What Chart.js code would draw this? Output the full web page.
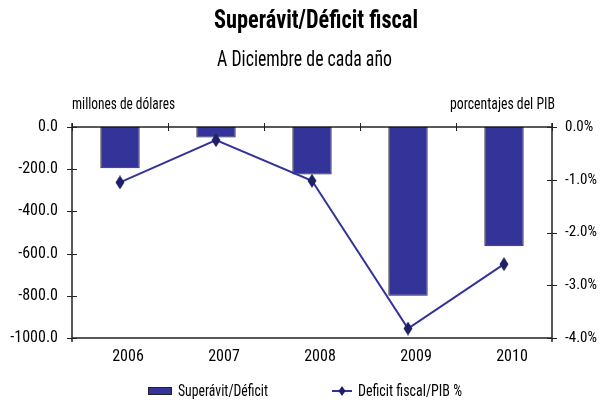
<!DOCTYPE html>
<html>
<head>
<meta charset="utf-8">
<script src="https://cdn.jsdelivr.net/npm/chart.js@4/dist/chart.umd.min.js"></script>
<style>
  html, body { margin: 0; padding: 0; background: #fff; }
  #wrap { width: 614px; height: 406px; position: relative; }
</style>
</head>
<body>
<div id="wrap"><canvas id="c" width="614" height="406"></canvas></div>
<script>
// Years shown on the category axis
const years = ['2006', '2007', '2008', '2009', '2010'];
// Fiscal balance, millions of dollars
const balance = [-195, -50, -225, -800, -565];
// Fiscal deficit as share of GDP, percent
const deficitPct = [-1.05, -0.25, -1.02, -3.82, -2.6];
// Axis bounds and steps
const leftTicks = { min: -1000, max: 0, step: 200 };
const rightTicks = { min: -4, max: 0, step: 1 };

const FONT = "'Roboto Condensed', 'Liberation Sans', Arial, sans-serif";
const NAVY = '#333399';
const DARK = '#1f1f66';

// Tall diamond marker for the line series
const diamond = document.createElement('canvas');
diamond.width = 10; diamond.height = 14;
(function () {
  const d = diamond.getContext('2d');
  d.fillStyle = DARK;
  d.beginPath();
  d.moveTo(5, 0); d.lineTo(9.5, 7); d.lineTo(5, 14); d.lineTo(0.5, 7);
  d.closePath(); d.fill();
})();

// Draw a left-aligned string squeezed horizontally to a given width
function fitText(ctx, text, x, y, width) {
  const w = ctx.measureText(text).width;
  ctx.save();
  ctx.textAlign = 'left';
  ctx.translate(x, y);
  ctx.scale(Math.min(1, width / w), 1);
  ctx.fillText(text, 0, 0);
  ctx.restore();
}

const decor = {
  id: 'decor',
  afterDraw(chart) {
    const { ctx, chartArea: a, scales } = chart;
    ctx.save();
    ctx.fillStyle = '#000';
    ctx.textBaseline = 'alphabetic';
    // Title and subtitle
    ctx.font = "bold 25px " + FONT;
    fitText(ctx, 'Superávit/Déficit fiscal', 214, 28, 204);
    ctx.font = "22px " + FONT;
    fitText(ctx, 'A Diciembre de cada año', 217, 66, 175);
    // Axis captions
    ctx.font = "16px " + FONT;
    fitText(ctx, 'millones de dólares', 72, 109, 103);
    fitText(ctx, 'porcentajes del PIB', 450, 109, 105);

    // Frame lines
    ctx.strokeStyle = '#222';
    ctx.lineWidth = 1.5;
    ctx.beginPath();
    ctx.moveTo(a.left, a.top); ctx.lineTo(a.right, a.top);
    ctx.moveTo(a.left, a.bottom); ctx.lineTo(a.right, a.bottom);
    ctx.moveTo(a.left, a.top - 4); ctx.lineTo(a.left, a.bottom + 4);
    ctx.moveTo(a.right, a.top - 4); ctx.lineTo(a.right, a.bottom + 4);
    ctx.stroke();
    // Crossing tick marks
    ctx.lineWidth = 1;
    ctx.beginPath();
    const y = scales.y, y1 = scales.y1, x = scales.x;
    y.ticks.forEach(t => {
      const py = Math.round(y.getPixelForValue(t.value)) + 0.5;
      ctx.moveTo(a.left - 5, py); ctx.lineTo(a.left + 5, py);
    });
    y1.ticks.forEach(t => {
      const py = Math.round(y1.getPixelForValue(t.value)) + 0.5;
      ctx.moveTo(a.right - 5, py); ctx.lineTo(a.right + 5, py);
    });
    for (let i = 0; i <= years.length; i++) {
      const px = Math.round(x.getPixelForValue(i - 0.5)) + 0.5;
      ctx.moveTo(px, a.top - 4); ctx.lineTo(px, a.top + 4);
    }
    ctx.stroke();

    // Legend
    const ly = 391;
    ctx.fillStyle = NAVY;
    ctx.fillRect(148, ly - 4, 24, 8);
    ctx.strokeStyle = '#222';
    ctx.lineWidth = 1;
    ctx.strokeRect(148.5, ly - 3.5, 23, 7);
    ctx.fillStyle = '#000';
    ctx.font = "16px " + FONT;
    ctx.textBaseline = 'middle';
    fitText(ctx, 'Superávit/Déficit', 178, ly + 1, 90);
    ctx.strokeStyle = NAVY;
    ctx.lineWidth = 2;
    ctx.beginPath(); ctx.moveTo(332, ly); ctx.lineTo(352, ly); ctx.stroke();
    ctx.fillStyle = DARK;
    ctx.beginPath();
    ctx.moveTo(342, ly - 5); ctx.lineTo(345.5, ly); ctx.lineTo(342, ly + 5); ctx.lineTo(338.5, ly);
    ctx.closePath(); ctx.fill();
    ctx.fillStyle = '#000';
    fitText(ctx, 'Deficit fiscal/PIB %', 358, ly + 1, 104);
    ctx.restore();
  }
};

new Chart(document.getElementById('c'), {
  data: {
    labels: years,
    datasets: [
      {
        type: 'line',
        label: 'Deficit fiscal/PIB %',
        data: deficitPct,
        yAxisID: 'y1',
        borderColor: NAVY,
        borderWidth: 2,
        pointStyle: diamond,
        pointRadius: 6,
        order: 0
      },
      {
        type: 'bar',
        label: 'Superávit/Déficit',
        data: balance,
        yAxisID: 'y',
        backgroundColor: NAVY,
        borderColor: '#222',
        borderWidth: 1,
        borderSkipped: false,
        barPercentage: 0.41,
        categoryPercentage: 1,
        order: 1
      }
    ]
  },
  options: {
    responsive: false,
    animation: false,
    layout: { padding: { top: 127, left: 0, right: 0, bottom: 0 } },
    plugins: { legend: { display: false }, tooltip: { enabled: false }, title: { display: false } },
    scales: {
      x: {
        position: 'bottom',
        grid: { display: false, drawTicks: false },
        border: { display: false },
        ticks: { color: '#000', font: { family: FONT, size: 16 }, padding: 9, labelOffset: 8, maxRotation: 0 },
        afterFit(s) { s.height = 406 - 338; }
      },
      y: {
        position: 'left',
        min: leftTicks.min, max: leftTicks.max,
        grid: { display: false, drawTicks: false },
        border: { display: false },
        ticks: {
          stepSize: leftTicks.step, color: '#000', padding: 14,
          font: { family: FONT, size: 16 },
          callback: v => Number(v).toFixed(1)
        },
        afterFit(s) { s.width = 72; }
      },
      y1: {
        position: 'right',
        min: rightTicks.min, max: rightTicks.max,
        grid: { display: false, drawTicks: false },
        border: { display: false },
        ticks: {
          stepSize: rightTicks.step, color: '#000', padding: 13,
          font: { family: FONT, size: 15 },
          callback: v => Number(v).toFixed(1) + '%'
        },
        afterFit(s) { s.width = 614 - 552; }
      }
    }
  },
  plugins: [decor]
});
</script>
</body>
</html>
